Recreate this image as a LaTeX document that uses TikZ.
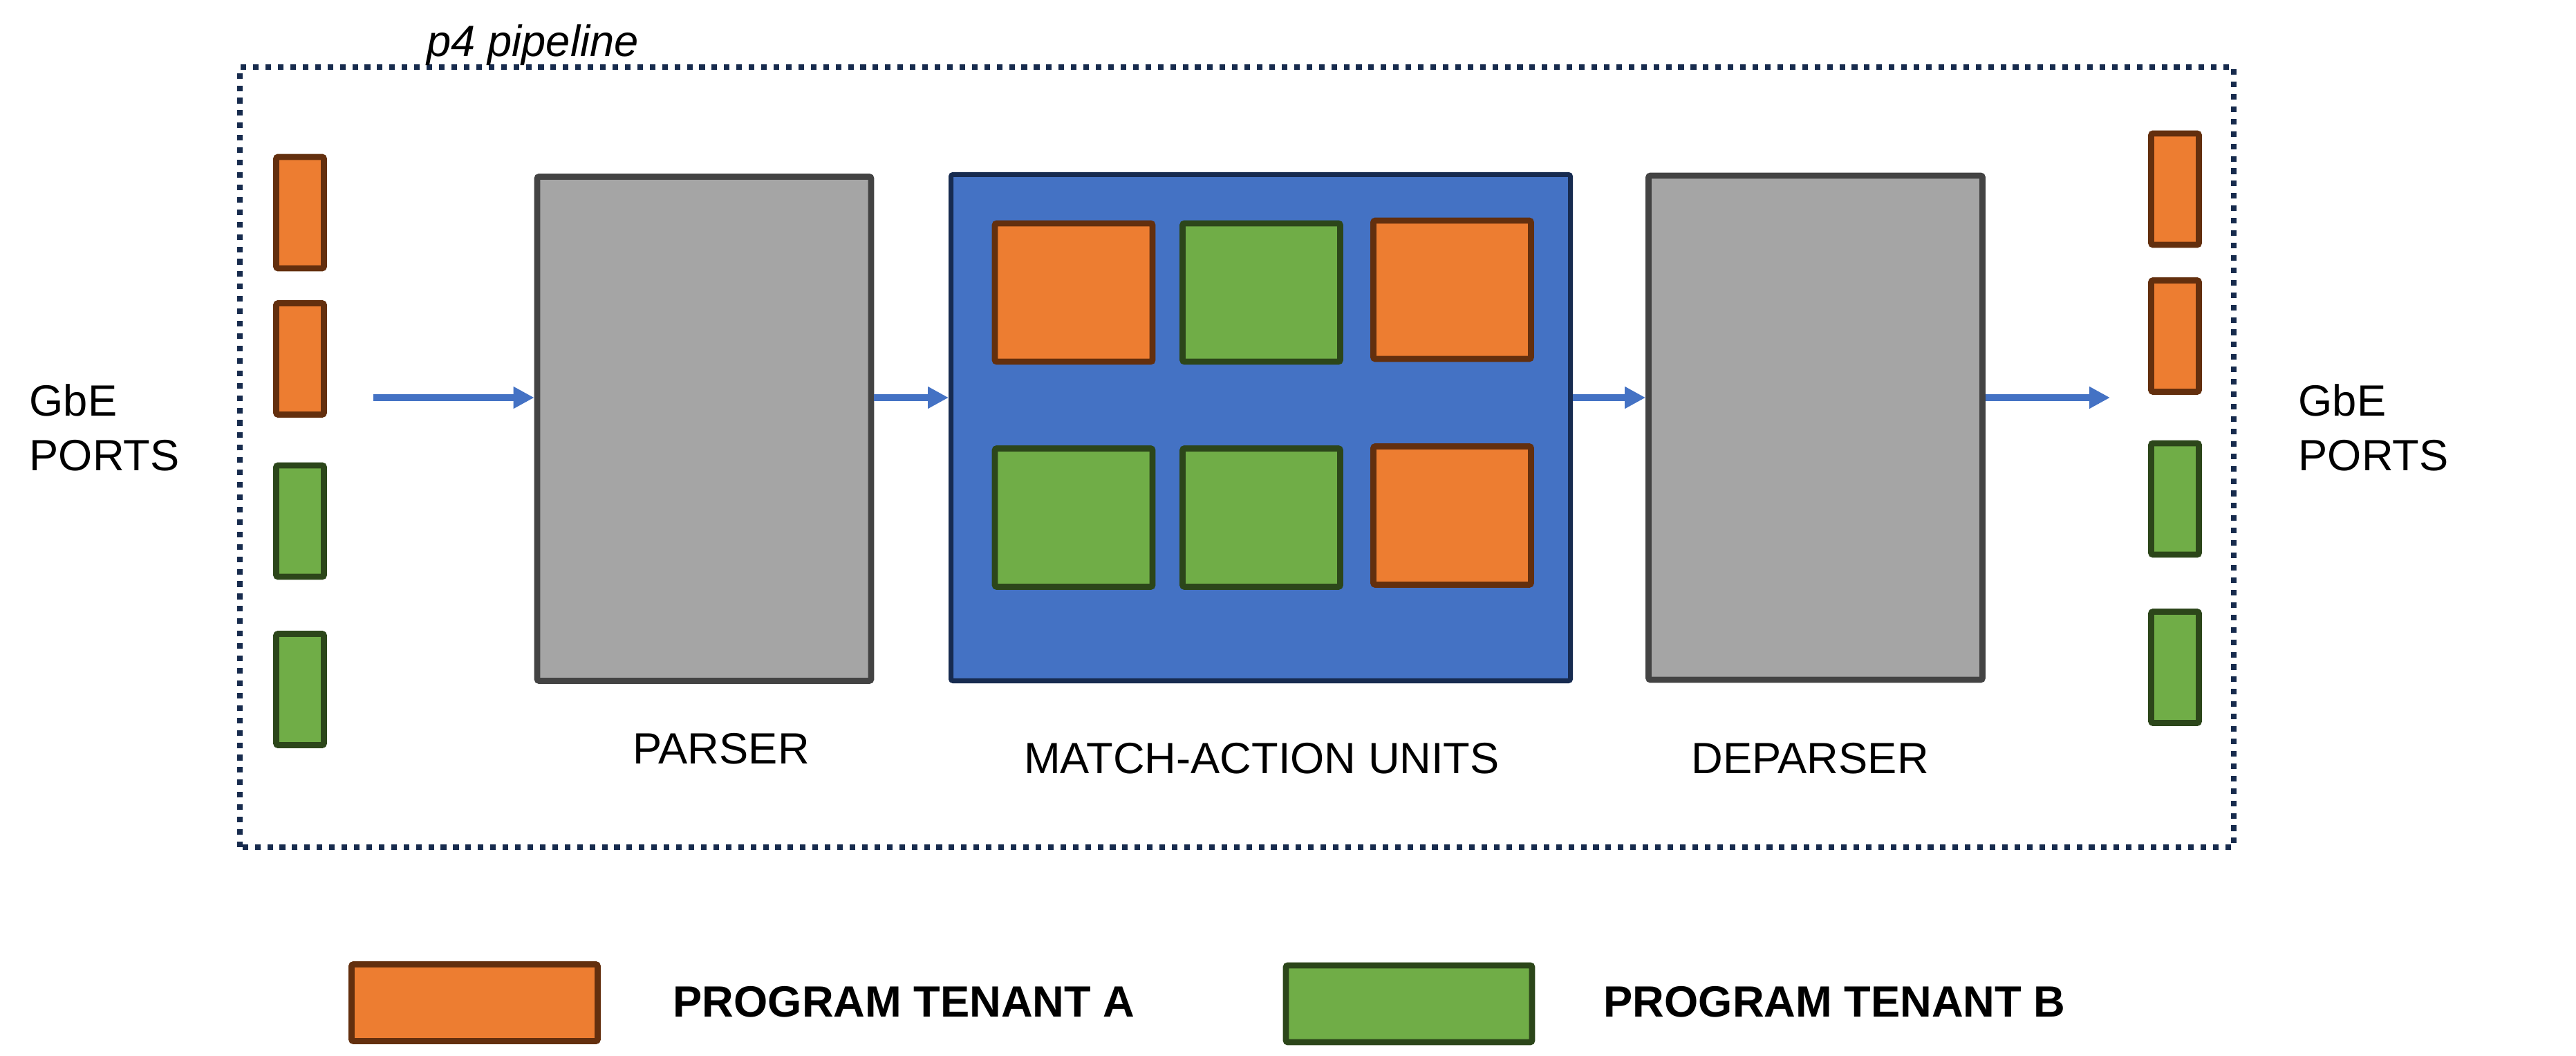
\documentclass[tikz,border=0pt]{standalone}
\usepackage{fontspec}
\setmainfont{Liberation Sans}
\usetikzlibrary{arrows.meta}
\definecolor{tenA}{RGB}{237,125,49}
\definecolor{tenAline}{RGB}{99,47,14}
\definecolor{tenB}{RGB}{112,173,71}
\definecolor{tenBline}{RGB}{44,70,26}
\definecolor{stagefill}{RGB}{165,165,165}
\definecolor{stageline}{RGB}{67,67,67}
\definecolor{maufill}{RGB}{68,114,196}
\definecolor{mauline}{RGB}{23,43,80}
\definecolor{frameline}{RGB}{23,43,77}

\begin{document}
\begin{tikzpicture}[
  every node/.style={font=\fontsize{18}{22.5}\selectfont, inner sep=0pt},
  box/.style={line width=2.5pt, rounded corners=0.8pt},
  tena/.style={box, draw=tenAline, fill=tenA},
  tenb/.style={box, draw=tenBline, fill=tenB},
  port/.style={minimum width=0.69cm, minimum height=1.61cm},
  unit/.style={minimum width=2.28cm, minimum height=2.00cm},
  legend/.style={minimum width=3.56cm, minimum height=1.11cm},
  stage/.style={box, draw=stageline, fill=stagefill, minimum width=4.83cm, minimum height=7.29cm},
  flow/.style={maufill, line width=2.85pt, -{Triangle[length=0.30cm,width=0.30cm]}},
  lbl/.style={anchor=base}
]
  \useasboundingbox (0,0) rectangle (37.26,15.27);
  \def\y{9.52};  % height of the packet flow
  %pipeline frame
  \draw[frameline, line width=2.3pt, dash pattern=on 2.3pt off 2.8pt] (3.47,3.02) rectangle (32.31,14.30);
  \node[anchor=base west, font=\fontsize{18}{22.5}\selectfont\itshape] (pipe) at (6.17,14.45) {p4 pipeline};
  %ports
  \node[align=left, anchor=north west] (gbein) at (0.42,9.72) {GbE\\PORTS};
  \node[align=left, anchor=north west] (gbeout) at (33.24,9.72) {GbE\\PORTS};
  \foreach \py/\s [count=\i] in {12.195/tena,10.08/tena,7.735/tenb,5.30/tenb}
    \node[\s, port] (in\i) at (4.34,\py) {};
  \foreach \py/\s [count=\i] in {12.535/tena,10.41/tena,8.055/tenb,5.62/tenb}
    \node[\s, port] (out\i) at (31.46,\py) {};
  %stages
  \node[stage] (parser) at (10.185,9.07) {};
  \node[box, draw=mauline, line width=2pt, fill=maufill, minimum width=8.96cm, minimum height=7.32cm] (mau) at (18.235,9.085) {};
  \node[stage] (deparser) at (26.26,9.085) {};
  \node[tena, unit] (u11) at (15.53,11.04) {};
  \node[tenb, unit] (u12) at (18.245,11.04) {};
  \node[tena, unit] (u13) at (21.005,11.08) {};
  \node[tenb, unit] (u21) at (15.53,7.785) {};
  \node[tenb, unit] (u22) at (18.245,7.785) {};
  \node[tena, unit] (u23) at (21.005,7.815) {};
  \node[lbl] (parserlbl) at (10.43,4.22) {PARSER};
  \node[lbl] (maulbl) at (18.25,4.08) {MATCH-ACTION UNITS};
  \node[lbl] (deparserlbl) at (26.18,4.08) {DEPARSER};
  %flow
  \coordinate (src) at (5.40,\y);
  \coordinate (dst) at (30.52,\y);
  \draw[flow] (src) -- (src -| parser.west);
  \draw[flow] (src -| parser.east) -- (src -| mau.west);
  \draw[flow] (src -| mau.east) -- (src -| deparser.west);
  \draw[flow] (src -| deparser.east) -- (dst);
  %legend
  \node[tena, legend] (keya) at (6.865,0.77) {};
  \node[anchor=base west, font=\fontsize{18}{22.5}\selectfont\bfseries] (keyalbl) at (9.73,0.56) {PROGRAM TENANT A};
  \node[tenb, legend] (keyb) at (20.38,0.755) {};
  \node[anchor=base west, font=\fontsize{18}{22.5}\selectfont\bfseries] (keyblbl) at (23.19,0.56) {PROGRAM TENANT B};
\end{tikzpicture}
\end{document}
